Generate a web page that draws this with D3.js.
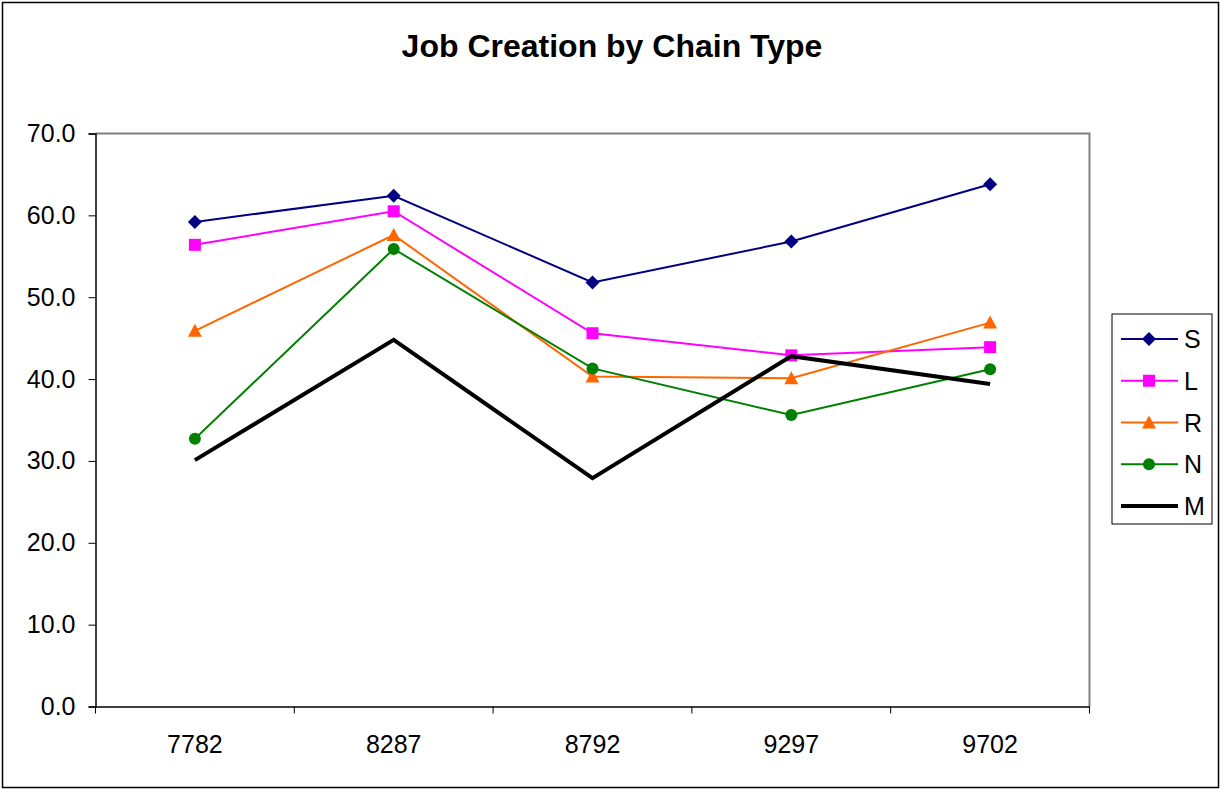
<!DOCTYPE html>
<html>
<head>
<meta charset="utf-8">
<script src="https://cdn.jsdelivr.net/npm/d3@7"></script>
<style>
  html, body { margin: 0; padding: 0; background: #fff; }
  svg { display: block; font-family: "Liberation Sans", Arial, sans-serif; }
</style>
</head>
<body>
<svg id="chart" width="1221" height="789"></svg>
<script>
// Job creation per period, one series per chain type
const periods = ["7782", "8287", "8792", "9297", "9702"];
const seriesNames = ["S", "L", "R", "N", "M"];
const valuesS = [59.2, 62.4, 51.8, 56.8, 63.8];
const valuesL = [56.4, 60.5, 45.6, 42.9, 43.9];
const valuesR = [45.9, 57.6, 40.3, 40.1, 46.9];
const valuesN = [32.7, 55.9, 41.3, 35.6, 41.2];
const valuesM = [30.1, 44.8, 27.9, 42.8, 39.4];
const yTicks = [0, 10, 20, 30, 40, 50, 60, 70];

const series = [
  { name: "S", values: valuesS, color: "#000080", width: 2, marker: "diamond" },
  { name: "L", values: valuesL, color: "#FF00FF", width: 2, marker: "square" },
  { name: "R", values: valuesR, color: "#FF6600", width: 2, marker: "triangle" },
  { name: "N", values: valuesN, color: "#008000", width: 2, marker: "circle" },
  { name: "M", values: valuesM, color: "#000000", width: 4, marker: null }
];

const labelSize = 25;
const svg = d3.select("#chart");

// outer frame
svg.append("rect")
  .attr("x", 2.5).attr("y", 2.5).attr("width", 1216).attr("height", 785)
  .attr("fill", "#fff").attr("stroke", "#000").attr("stroke-width", 1.5);

const plot = { left: 95.5, right: 1089.5, top: 133.5, bottom: 706.5 };

const x = d3.scaleBand().domain(periods).range([plot.left, plot.right]);
const y = d3.scaleLinear().domain([0, 70]).range([plot.bottom, plot.top]);

// plot area border (top/right in grey)
svg.append("path")
  .attr("d", `M${plot.left},${plot.top}H${plot.right}V${plot.bottom}`)
  .attr("fill", "none").attr("stroke", "#808080").attr("stroke-width", 2);

// y axis
const yAxis = svg.append("g")
  .attr("transform", `translate(${plot.left},0)`)
  .call(d3.axisLeft(y).tickValues(yTicks).tickFormat(d3.format(".1f")).tickSize(7).tickPadding(13));
yAxis.select(".domain").attr("stroke", "#000").attr("stroke-width", 1.5);
yAxis.selectAll(".tick line").attr("stroke", "#000");
yAxis.selectAll("text").attr("font-size", labelSize).attr("fill", "#000")
  .attr("font-family", "Liberation Sans, Arial, sans-serif");

// x axis with ticks on category boundaries
const xAxis = svg.append("g")
  .attr("transform", `translate(0,${plot.bottom})`)
  .call(d3.axisBottom(x).tickSize(0).tickPadding(29));
xAxis.select(".domain").attr("stroke", "#000").attr("stroke-width", 1.5);
xAxis.selectAll("text").attr("font-size", labelSize).attr("fill", "#000")
  .attr("font-family", "Liberation Sans, Arial, sans-serif");
const boundaries = periods.map(p => x(p)).concat([x(periods[periods.length - 1]) + x.bandwidth()]);
xAxis.selectAll("line.bnd").data(boundaries).enter().append("line")
  .attr("class", "bnd")
  .attr("x1", d => d).attr("x2", d => d)
  .attr("y1", 0).attr("y2", 7)
  .attr("stroke", "#000").attr("stroke-width", 1);

// title
svg.append("text")
  .attr("x", 612).attr("y", 57)
  .attr("text-anchor", "middle")
  .attr("font-size", 32).attr("font-weight", "bold")
  .text("Job Creation by Chain Type");

const cx = p => x(p) + x.bandwidth() / 2;

function drawMarker(g, type, color, px, py) {
  if (type === "diamond") {
    g.append("path").attr("d", `M${px},${py - 7}L${px + 7},${py}L${px},${py + 7}L${px - 7},${py}Z`).attr("fill", color);
  } else if (type === "square") {
    g.append("rect").attr("x", px - 6).attr("y", py - 6).attr("width", 12).attr("height", 12).attr("fill", color);
  } else if (type === "triangle") {
    g.append("path").attr("d", `M${px},${py - 7}L${px + 7},${py + 6}L${px - 7},${py + 6}Z`).attr("fill", color);
  } else if (type === "circle") {
    g.append("circle").attr("cx", px).attr("cy", py).attr("r", 6).attr("fill", color);
  }
}

const line = d3.line().x((d, i) => cx(periods[i])).y(d => y(d));

series.forEach(s => {
  const g = svg.append("g");
  g.append("path").datum(s.values)
    .attr("d", line)
    .attr("fill", "none").attr("stroke", s.color).attr("stroke-width", s.width)
    .attr("stroke-linejoin", "miter");
  if (s.marker) {
    s.values.forEach((v, i) => drawMarker(g, s.marker, s.color, cx(periods[i]), y(v)));
  }
});

// legend
const legend = svg.append("g");
legend.append("rect")
  .attr("x", 1112).attr("y", 314).attr("width", 100).attr("height", 210)
  .attr("fill", "#fff").attr("stroke", "#000").attr("stroke-width", 1);
const legendY = d3.scalePoint().domain(seriesNames).range([339, 506]);
series.forEach(s => {
  const ly = legendY(s.name);
  legend.append("line")
    .attr("x1", 1121).attr("x2", 1178).attr("y1", ly).attr("y2", ly)
    .attr("stroke", s.color).attr("stroke-width", s.width);
  if (s.marker) drawMarker(legend, s.marker, s.color, 1149, ly);
  legend.append("text")
    .attr("x", 1184).attr("y", ly + 9)
    .attr("font-size", labelSize)
    .text(s.name);
});
</script>
</body>
</html>
